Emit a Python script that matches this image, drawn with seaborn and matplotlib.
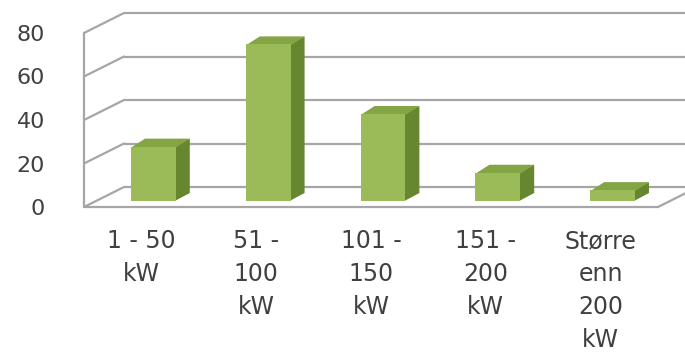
import matplotlib
matplotlib.use('Agg')
import matplotlib.pyplot as plt
import seaborn as sns
import pandas as pd
from matplotlib.patches import Polygon

# data
categories = ['1 - 50\nkW', '51 -\n100\nkW', '101 -\n150\nkW', '151 -\n200\nkW', 'Større\nenn\n200\nkW']
values = [25, 72, 40, 13, 5]
y_ticks = [0, 20, 40, 60, 80]

front_col = '#9bbb59'
side_col = '#66862f'
top_col = '#84a544'
grid_col = '#a6a6a6'
text_col = '#404040'

sns.set_style('white')
plt.rcParams['font.family'] = ['DejaVu Sans']

fig = plt.figure(figsize=(6.85, 3.54), dpi=100)
# axes = front plane of the 3d box
ax = fig.add_axes([84 / 685, 1 - 207 / 354, 574 / 685, 174 / 354])

df = pd.DataFrame({'cat': categories, 'val': values})
sns.barplot(data=df, x='cat', y='val', color=front_col, width=0.39,
            saturation=1, ax=ax, zorder=3)
ax.set_xlim(-0.5, len(categories) - 0.5)
ax.set_ylim(0, max(y_ticks))

# pixel offsets -> data units
p0 = ax.transData.transform((0, 0))
p1 = ax.transData.transform((1, 1))
sx, sy = p1[0] - p0[0], p1[1] - p0[1]


def px(dx, dy):
    return dx / sx, dy / sy


wdx, wdy = px(40, 20)   # wall depth
bdx, bdy = px(12, 6)    # bar plane offset
ddx, ddy = px(14, 8)    # bar depth
ox, oy = px(1, 1)       # small overlap so no seams show
xl, xr = ax.get_xlim()
lw = 1.6

# back wall gridlines and left wall
for t in y_ticks:
    ax.plot([xl + wdx, xr + 3 * wdx], [t + wdy, t + wdy], color=grid_col, lw=lw,
            clip_on=False, zorder=1, solid_capstyle='butt')
    ax.plot([xl, xl + wdx], [t, t + wdy], color=grid_col, lw=lw, clip_on=False, zorder=1)
ax.plot([xl, xl], [0, max(y_ticks)], color=grid_col, lw=lw, clip_on=False, zorder=1)
# floor
ax.plot([xl, xr], [0, 0], color=grid_col, lw=lw, clip_on=False, zorder=1)
ax.plot([xr, xr + wdx], [0, wdy], color=grid_col, lw=lw, clip_on=False, zorder=1)

# 3d bars: shift front faces, add side and top faces
for p in ax.patches[:len(values)]:
    x0 = p.get_x() + bdx
    w = p.get_width()
    h = p.get_height()
    p.set_x(x0)
    p.set_y(bdy)
    p.set_linewidth(0)
    p.set_clip_on(False)
    side = Polygon([(x0 + w - ox, bdy), (x0 + w + ddx, bdy + ddy),
                    (x0 + w + ddx, bdy + h + ddy), (x0 + w - ox, bdy + h)],
                   closed=True, facecolor=side_col, edgecolor='none', zorder=2.9, clip_on=False)
    top = Polygon([(x0, bdy + h - oy), (x0 + w, bdy + h - oy),
                   (x0 + w + ddx, bdy + h + ddy), (x0 + ddx, bdy + h + ddy)],
                  closed=True, facecolor=top_col, edgecolor='none', zorder=2.9, clip_on=False)
    ax.add_patch(side)
    ax.add_patch(top)

for s in ax.spines.values():
    s.set_visible(False)
ax.set_yticks(y_ticks)
ax.set_xlabel('')
ax.set_ylabel('')
ax.tick_params(axis='both', length=0, colors=text_col)
ax.tick_params(axis='y', labelsize=16, pad=28)
ax.tick_params(axis='x', labelsize=17, pad=16)
for lbl in ax.get_xticklabels():
    lbl.set_linespacing(1.47)
ax.grid(False)

fig.savefig('out.png', dpi=100, facecolor='white')
